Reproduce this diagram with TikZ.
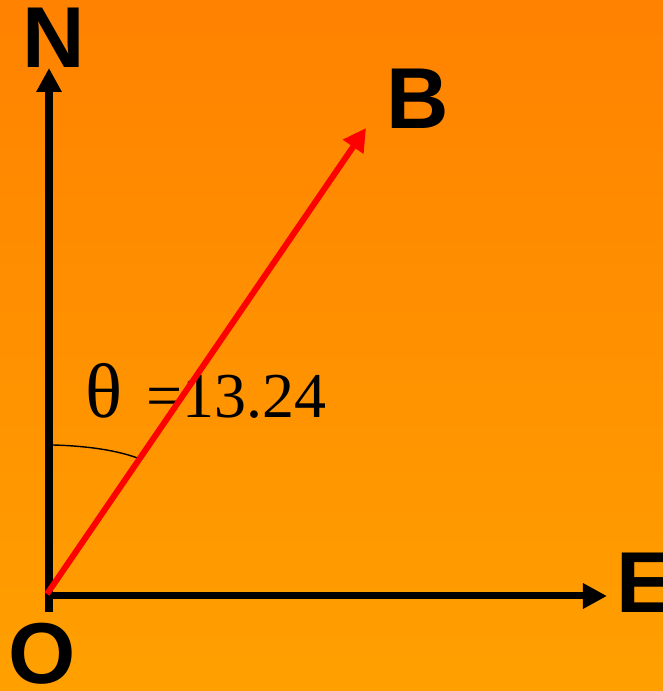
\documentclass[tikz,border=0pt]{standalone}
\usepackage{fontspec}
\usetikzlibrary{arrows.meta}
\newfontfamily\axisfont{Liberation Sans}
\newfontfamily\anglefont{Liberation Serif}
\definecolor{bg-top}{HTML}{FF8200}
\definecolor{bg-bottom}{HTML}{FFA000}
\definecolor{vec-red}{HTML}{FF0000}

\begin{document}
\begin{tikzpicture}[x=0.025cm, y=0.025cm,
      every node/.style={inner sep=0pt},
      axislabel/.style={font=\axisfont\bfseries\fontsize{61.5}{61.5}\selectfont},
      axisline/.style={line width=0.175cm, -{Triangle[length=0.6cm, width=0.6cm]}}]
    \shade[top color=bg-top, bottom color=bg-bottom] (0,0) rectangle (663,691);
    \useasboundingbox (0,0) rectangle (663,691);
    \coordinate (foot) at (49,79);
    \coordinate (O) at (49,95);
    \coordinate (tail) at (47,97);
    \coordinate (Ntip) at (49,623);
    \coordinate (Etip) at (607,95);
    \coordinate (Btip) at (366,563);
    \coordinate (arcstart) at (53,246);
    \coordinate (arcend) at (140,232);
    \node[axislabel] (Nlabel) at (54,653) {N};
    \node[axislabel] (Blabel) at (418,592.5) {B};
    \node[axislabel, anchor=west] (Elabel) at (616,108) {E};
    \node[axislabel] (Olabel) at (42,37) {O};
    \node[anchor=base west, font=\anglefont\fontsize{55}{55}\selectfont]
          (theta) at (85,273) {θ};
    \node[anchor=base west, font=\anglefont\fontsize{45.5}{45.5}\selectfont]
          (value) at (146,273) {=13.24};
    \draw[axisline] (foot) -- (Ntip);
    \draw[axisline] (O) -- (Etip);
    \draw[line width=1pt] (arcstart) .. controls (90,245) and (120,240) .. (arcend);
    \draw[vec-red, line width=0.15cm, -{Triangle[length=0.57cm, width=0.59cm]}]
          (tail) -- (Btip);
  \end{tikzpicture}
\end{document}
